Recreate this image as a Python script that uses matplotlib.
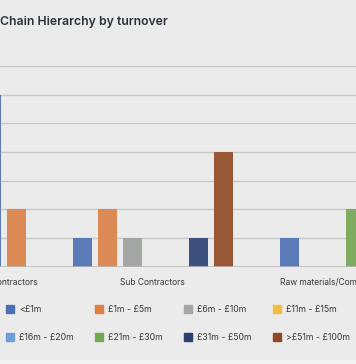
import matplotlib
matplotlib.use("Agg")
import matplotlib.pyplot as plt
from matplotlib.patches import Rectangle

plt.rcParams['font.family'] = ['Inter', 'DejaVu Sans']

categories = ["Main Contractors", "Sub Contractors", "Raw materials/Components"]
bands = ["<£1m", "£1m - £5m", "£6m - £10m", "£11m - £15m",
         "£16m - £20m", "£21m - £30m", "£31m - £50m", ">£51m - £100m"]
# counts per band for each category (0 = no bar)
main_contr = [6, 2, 0, 0, 0, 0, 0, 0]
sub_contr = [1, 2, 1, 0, 0, 0, 1, 4]
raw_mat = [1, 0, 0, 0, 0, 2, 1, 0]
values = [main_contr, sub_contr, raw_mat]

bar_colors = ["#5b7ab8", "#db8a55", "#a4a6a4", "#f0bd45",
              "#6d9fd8", "#7eab5f", "#3d4f7d", "#985838"]
key_colors = ["#4a6fb5", "#e07f45", "#a5a5a5", "#f2bd42",
              "#6d9fd8", "#72a852", "#2c3e70", "#8f4726"]

W, H = 356, 364
BG = "#ebebeb"

fig = plt.figure(figsize=(W / 100, H / 100), dpi=100, facecolor=BG)
ax = fig.add_axes([0, (H - 266.7) / H, 1, (266.7 - 66) / H], facecolor=BG)

# bars are packed: adjacent bands sit close, skipped bands / new category leave a wider gap
bw, near, far = 19, 25, 66
cursor, prev, centers = None, None, []
for ci, row in enumerate(values):
    lefts = []
    for si, v in enumerate(row):
        if v == 0:
            continue
        if cursor is None:
            cursor = 0
        elif prev == (ci, si - 1):
            cursor += near
        else:
            cursor += far
        ax.bar(cursor, v, width=bw, align='edge', color=bar_colors[si], zorder=3)
        lefts.append(cursor)
        prev = (ci, si)
    centers.append((lefts[0] + lefts[-1] + bw) / 2)

ax.set_xlim(18.2, 18.2 + W)
ax.set_ylim(0, 7)
ax.set_yticks(range(8))
ax.yaxis.grid(True, color="#c9c9c9", linewidth=1.0, zorder=0)
ax.axhline(0, color="#bdbdbd", linewidth=1.8, zorder=4)
ax.tick_params(axis='y', left=False, labelleft=False)
ax.set_xticks(centers, categories)
ax.tick_params(axis='x', length=0, pad=8, labelsize=6.1, labelcolor="#3a3a3a")
for s in ax.spines.values():
    s.set_visible(False)

fig.text(0, 1 - 25 / H, "Chain Hierarchy by turnover", fontsize=8.8,
         fontweight='semibold', color="#2b313b", va='baseline', ha='left')

# legend, 4 columns x 2 rows
for i, (lab, col) in enumerate(zip(bands, key_colors)):
    r, c = divmod(i, 4)
    x0 = 6 + c * 89
    yc = 309 + r * 28
    fig.add_artist(Rectangle((x0 / W, 1 - (yc + 4) / H), 8 / W, 8 / H,
                             transform=fig.transFigure, color=col))
    fig.text((x0 + 13) / W, 1 - yc / H, lab, fontsize=6.3, color="#3a3a3a",
             va='center', ha='left')

fig.add_artist(Rectangle((0, 0), 1, 4 / H, transform=fig.transFigure,
                         color="#f3f3f3", zorder=0))

fig.savefig("out.png", dpi=100, facecolor=BG)
